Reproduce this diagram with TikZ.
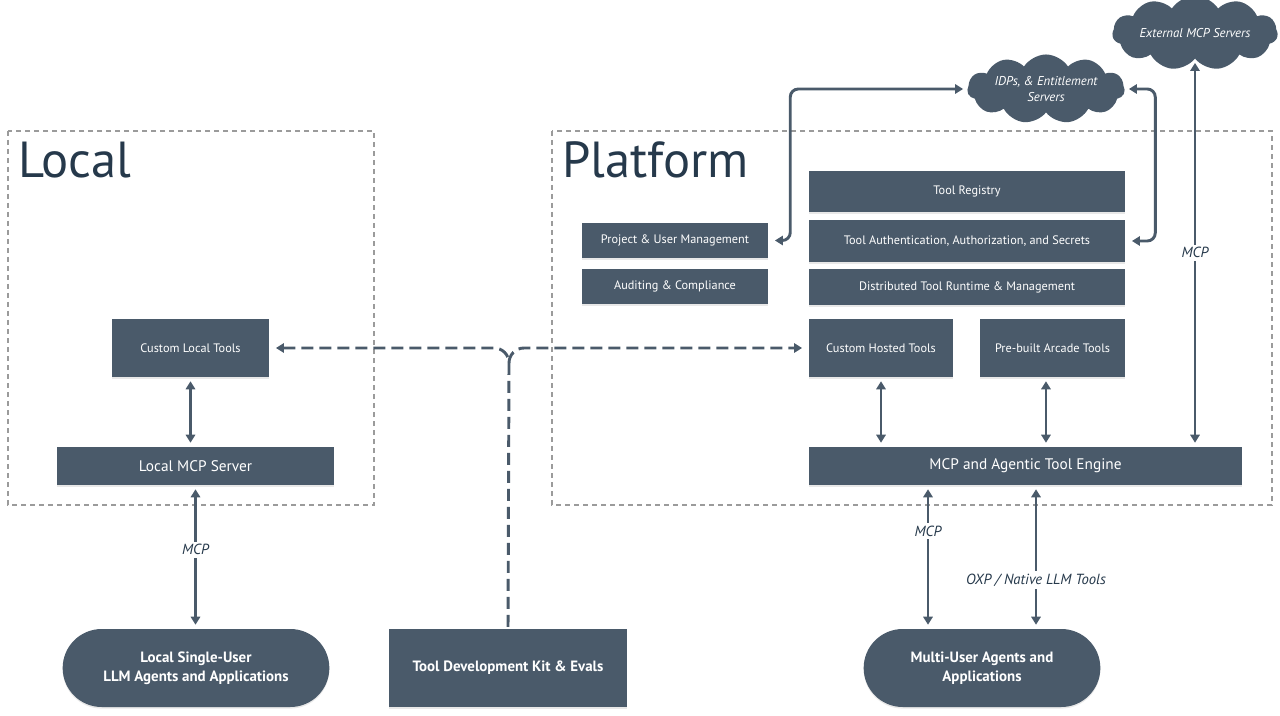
\documentclass[tikz,border=0pt]{standalone}
\usepackage{fontspec}
\setmainfont{PT Sans}
\usetikzlibrary{arrows.meta, positioning, shapes.symbols, shapes.misc, shadows}

\definecolor{slate}{HTML}{4A5A6A}
\definecolor{ink}{HTML}{26394B}
\definecolor{framegray}{HTML}{9B9B9B}

\tikzset{
  box/.style={fill=slate, text=white, align=center, inner sep=2pt,
    font=\fontsize{9.2}{11}\selectfont,
    drop shadow={opacity=0.18, shadow xshift=0pt, shadow yshift=-1.2pt}},
  pill/.style={box, rounded rectangle, font=\fontsize{11.2}{14}\selectfont\bfseries},
  cloudy/.style={cloud, cloud puffs=11, cloud puff arc=115, aspect=3, fill=slate,
    text=white, align=center, inner sep=0pt, font=\fontsize{9.6}{12}\selectfont\itshape},
  frame/.style={draw=framegray, line width=1pt, dash pattern=on 3.75pt off 3pt},
  title/.style={text=ink, anchor=base west, inner sep=0pt, font=\fontsize{38}{40}\selectfont},
  tip/.tip={Triangle[length=6pt, width=7pt]},
  link/.style={draw=slate, line width=2.2pt, tip-tip, shorten >=3pt, shorten <=3pt},
  devlink/.style={draw=slate, line width=2.2pt, dash pattern=on 9pt off 4.5pt},
  lbl/.style={fill=white, text=ink, inner sep=2pt, font=\fontsize{11}{13}\selectfont\itshape}
}

\begin{document}
\begin{tikzpicture}[x=0.75pt, y=-0.75pt]
  \useasboundingbox (0,0) rectangle (1280,716);
  % Frames
  \draw[frame] (8,131) rectangle (374,505);
  \draw[frame] (552,131) rectangle (1272,505);
  \node[title] (localtitle) at (18,178) {Local};
  \node[title] (platformtitle) at (562,178) {Platform};
  % Local side
  \node[box, minimum width=117.75pt, minimum height=43.5pt] (clt) at (190.5,348) {Custom Local Tools};
  \node[box, minimum width=207.75pt, minimum height=28.5pt, font=\fontsize{11.5}{13}\selectfont] (lms) at (195.5,466) {Local MCP Server};
  \node[pill, minimum width=204pt, minimum height=58.5pt] (lsu) at (196,668) {Local Single-User\\LLM Agents and Applications};
  \node[box, minimum width=178.5pt, minimum height=58.5pt, font=\fontsize{11.2}{14}\selectfont\bfseries] (tdk) at (508,668) {Tool Development Kit \& Evals};
  % Platform side
  \node[box, minimum width=139.5pt, minimum height=26.25pt] (pum) at (675,240.5) {Project \& User Management};
  \node[box, minimum width=139.5pt, minimum height=26.25pt] (audit) at (675,286.5) {Auditing \& Compliance};
  \node[box, minimum width=237pt, minimum height=30.75pt] (registry) at (967,191.5) {Tool Registry};
  \node[box, minimum width=237pt, minimum height=31.5pt] (auth) at (967,241) {Tool Authentication, Authorization, and Secrets};
  \node[box, minimum width=237pt, minimum height=27pt] (runtime) at (967,287) {Distributed Tool Runtime \& Management};
  \node[box, minimum width=108pt, minimum height=43.5pt] (cht) at (881,348) {Custom Hosted Tools};
  \node[box, minimum width=108.75pt, minimum height=43.5pt] (pat) at (1052.5,348) {Pre-built Arcade Tools};
  \node[box, minimum width=324.75pt, minimum height=28.5pt, font=\fontsize{11.5}{13}\selectfont] (eng) at (1025.5,466) {MCP and Agentic Tool Engine};
  \node[pill, minimum width=181.5pt, minimum height=58.5pt] (mua) at (982,668) {Multi-User Agents and\\Applications};
  % Clouds
  \node[cloudy, minimum width=118pt, minimum height=39pt] (idp) at (1046,89) {IDPs, \& Entitlement\\Servers};
  \node[cloudy, minimum width=124pt, minimum height=37pt] (ext) at (1195,33) {External MCP Servers};
  % Connectors
  \draw[link] (clt.south) -- (clt.south |- lms.north);
  \draw[link] (lms.south) -- (lms.south |- lsu.north) node[lbl, pos=0.45] {MCP};
  \draw[link] (cht.south) -- (cht.south |- eng.north);
  \draw[link] ([xshift=-4.9pt]pat.south) -- ([xshift=-4.9pt]pat.south |- eng.north);
  \draw[link] (ext.south) -- (ext.south |- eng.north) node[lbl, midway] {MCP};
  \draw[link] ([xshift=-40.5pt]mua.north |- eng.south) -- ([xshift=-40.5pt]mua.north) node[lbl, pos=0.32] {MCP};
  \draw[link] ([xshift=40.5pt]mua.north |- eng.south) -- ([xshift=40.5pt]mua.north) node[lbl, pos=0.66] {OXP / Native LLM Tools};
  \draw[link, rounded corners=6pt, shorten <=5pt] (pum.east) -- ++(22,0) |- (idp.west);
  \draw[link, rounded corners=6pt, shorten <=5pt] (auth.east) -- ++(30,0) |- (idp.east);
  % Dev kit fork
  \coordinate (fork) at (509,363);
  \draw[devlink, tip-, shorten <=5pt] (clt.east) -- (494,348) to[out=0, in=90] (fork) -- (tdk.north);
  \draw[devlink, -tip, shorten >=5pt] (fork) to[out=90, in=180] (524,348) -- (cht.west);
\end{tikzpicture}
\end{document}
